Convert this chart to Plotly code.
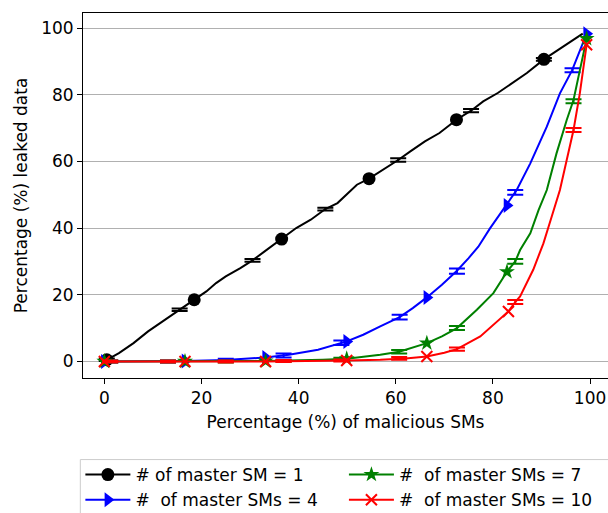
import plotly.graph_objects as go

# ---------------- data ----------------
# master SM = 1 (black)
blk_x = [0.5, 3, 6, 9, 12, 15.5, 18.5, 21, 23, 25, 28, 30.5, 33, 36.5, 39.5, 42.5, 45.5, 48, 50.5, 52,
         54.5, 57.5, 60.5, 63, 66, 69, 72.5, 75.5, 78, 81, 84, 87, 90.5, 93, 96, 98.5]
blk_y = [0.5, 2.5, 5.5, 9, 12, 15.5, 18.5, 21, 23.5, 25.5, 28, 30.3, 33, 36.7, 40, 42.5, 45.7, 47.5, 51, 53,
         54.8, 57.5, 60.4, 63, 66, 68.5, 72.5, 75.2, 78, 80.5, 83.5, 86.5, 90.6, 93, 96, 98.3]
blk_mx = [0.5, 18.5, 36.5, 54.5, 72.5, 90.5]
blk_my = [0.5, 18.5, 36.7, 54.8, 72.5, 90.6]
blk_ex = [0.5, 15.5, 30.5, 45.5, 60.5, 75.5, 90.5]
blk_ey = [0.5, 15.5, 30.3, 45.7, 60.4, 75.2, 90.6]
blk_err = [0.4, 0.4, 0.4, 0.4, 0.5, 0.5, 0.4]

# master SMs = 4 (blue)
blu_x = [0, 8, 16.6, 25, 33.2, 38, 44, 49.9, 53.3, 56.8, 60.8, 63.5, 66.4, 69.5, 72.6, 75, 77, 79.4,
         82.5, 84.9, 87.7, 91.1, 93.8, 96.3, 99.3]
blu_y = [0, 0, 0.1, 0.4, 1.2, 2.0, 3.5, 6.0, 8.0, 10.5, 13.3, 16, 19.2, 23, 27.2, 31, 34.4, 39.9,
         46.4, 51.4, 59.4, 70.4, 80.4, 87.3, 98.3]
blu_mx = [0, 16.6, 33.2, 49.9, 66.4, 82.9, 99.3]
blu_my = [0, 0.1, 1.2, 6.0, 19.2, 46.8, 98.3]
blu_ex = [1.2, 13.1, 25, 36.9, 48.8, 60.8, 72.6, 84.6, 96.4]
blu_ey = [0, 0, 0.4, 1.8, 5.6, 13.3, 27.1, 50.7, 87.3]
blu_err = [0.3, 0.3, 0.4, 0.6, 0.7, 0.7, 0.8, 0.7, 0.6]

# master SMs = 7 (green)
grn_x = [0, 16.6, 33.2, 45, 49.9, 56.8, 60.7, 66.4, 69.5, 72.6, 76.7, 80.1, 82.9, 84.6, 85.6, 87.7,
         89.4, 91.1, 93.1, 95.2, 96.6, 97.9, 99.3]
grn_y = [0, 0, 0.1, 0.5, 0.8, 2.0, 2.9, 5.5, 7.5, 10.0, 15.5, 20.5, 26.9, 30.0, 33.4, 38.4,
         45.4, 51.4, 62.4, 72.4, 78.4, 87.3, 96.8]
grn_mx = [0, 16.6, 33.2, 49.9, 66.4, 82.9, 99.3]
grn_my = [0, 0, 0.1, 0.8, 5.5, 26.9, 96.8]
grn_ex = [1.2, 13.1, 25, 36.9, 48.8, 60.7, 72.6, 84.6, 96.6]
grn_ey = [0, 0, 0, 0.1, 0.7, 2.9, 10.0, 30.0, 78.0]
grn_err = [0.3, 0.3, 0.3, 0.3, 0.4, 0.5, 0.6, 0.7, 0.6]

# master SMs = 10 (red)
red_x = [0, 16.6, 33.2, 49.9, 56.8, 62, 66.4, 70, 72.6, 77.4, 80.5, 83.2, 84.6, 85.6, 88.3, 90.4,
         92.1, 93.8, 95.2, 96.6, 97.9, 99.3]
red_y = [0, 0, 0, 0.3, 0.5, 0.9, 1.5, 2.6, 3.7, 7.5, 11.5, 15.0, 17.8, 19.5, 27.5, 35.4,
         43.4, 51.4, 60.4, 69.4, 80.4, 95.0]
red_mx = [0, 16.6, 33.2, 49.9, 66.4, 83.2, 99.3]
red_my = [0, 0, 0, 0.3, 1.5, 15.0, 95.0]
red_ex = [1.2, 13.1, 25, 36.9, 48.8, 60.7, 72.6, 84.6, 96.6]
red_ey = [0, 0, 0, 0.1, 0.3, 0.9, 3.7, 17.8, 69.4]
red_err = [0.3, 0.3, 0.3, 0.3, 0.3, 0.4, 0.5, 0.6, 0.6]

labels = ["# of master SM = 1", "#  of master SMs = 4", "#  of master SMs = 7", "#  of master SMs = 10"]
x_ticks = [0, 20, 40, 60, 80, 100]
y_ticks = [0, 20, 40, 60, 80, 100]

FONT = "DejaVu Sans"
FS = 17
series = [
    (blk_x, blk_y, blk_mx, blk_my, blk_ex, blk_ey, blk_err, "black", "circle", 13, labels[0], "legend"),
    (blu_x, blu_y, blu_mx, blu_my, blu_ex, blu_ey, blu_err, "#0000ff", "triangle-right", 13, labels[1], "legend"),
    (grn_x, grn_y, grn_mx, grn_my, grn_ex, grn_ey, grn_err, "#008000", "star", 12, labels[2], "legend2"),
    (red_x, red_y, red_mx, red_my, red_ex, red_ey, red_err, "#ff0000", "x-thin", 11, labels[3], "legend2"),
]

fig = go.Figure()
for (lx, ly, mx, my, ex, ey, err, col, sym, msz, name, leg) in series:
    mline = dict(color=col, width=2) if sym == "x-thin" else dict(width=0)
    fig.add_trace(go.Scatter(x=lx, y=ly, mode="lines", line=dict(color=col, width=2),
                             showlegend=False, hoverinfo="skip"))
    fig.add_trace(go.Scatter(x=ex, y=ey, mode="markers", marker=dict(size=1, opacity=0, color=col),
                             error_y=dict(type="data", array=err, visible=True, color=col,
                                          thickness=2, width=8),
                             showlegend=False, hoverinfo="skip"))
    fig.add_trace(go.Scatter(x=mx, y=my, mode="markers",
                             marker=dict(symbol=sym, size=msz, color=col, line=mline),
                             showlegend=False, hoverinfo="skip"))
    fig.add_trace(go.Scatter(x=[None], y=[None], mode="lines+markers", name=name,
                             line=dict(color=col, width=2),
                             marker=dict(symbol=sym, size=msz, color=col, line=mline),
                             legend=leg, showlegend=True))

leg_common = dict(orientation="v", xanchor="left", yanchor="top", y=-0.2165,
                  bgcolor="rgba(0,0,0,0)", borderwidth=0, itemwidth=45, traceorder="normal",
                  font=dict(family=FONT, size=FS, color="black"))
fig.update_layout(
    width=608, height=513,
    margin=dict(l=83, r=0, t=13, b=135, autoexpand=False),
    paper_bgcolor="white", plot_bgcolor="white",
    font=dict(family=FONT, size=FS, color="black"),
    showlegend=True,
    legend=dict(x=-0.005, **leg_common),
    legend2=dict(x=0.497, **leg_common),
    shapes=[dict(type="rect", xref="paper", yref="paper", x0=-0.0051, x1=1.02, y0=-0.2235, y1=-0.45,
                 line=dict(color="#cccccc", width=1), fillcolor="rgba(0,0,0,0)", layer="below")],
)
fig.update_xaxes(range=[-4.4, 103.7], tickvals=x_ticks, showgrid=False, zeroline=False,
                 showline=True, linecolor="black", linewidth=1, mirror=True,
                 ticks="outside", ticklen=5, tickcolor="black", tickwidth=1,
                 tickfont=dict(size=FS, family=FONT),
                 title=dict(text="Percentage (%) of malicious SMs", font=dict(size=FS, family=FONT), standoff=8))
fig.update_yaxes(range=[-4.97, 104.5], tickvals=y_ticks, showgrid=True, gridcolor="#b0b0b0", gridwidth=1,
                 zeroline=False, showline=True, linecolor="black", linewidth=1, mirror=False,
                 ticks="outside", ticklen=5, tickcolor="black", tickwidth=1,
                 tickfont=dict(size=FS, family=FONT),
                 title=dict(text="Percentage (%) leaked data", font=dict(size=FS, family=FONT), standoff=9))

fig.write_html("out.html")
